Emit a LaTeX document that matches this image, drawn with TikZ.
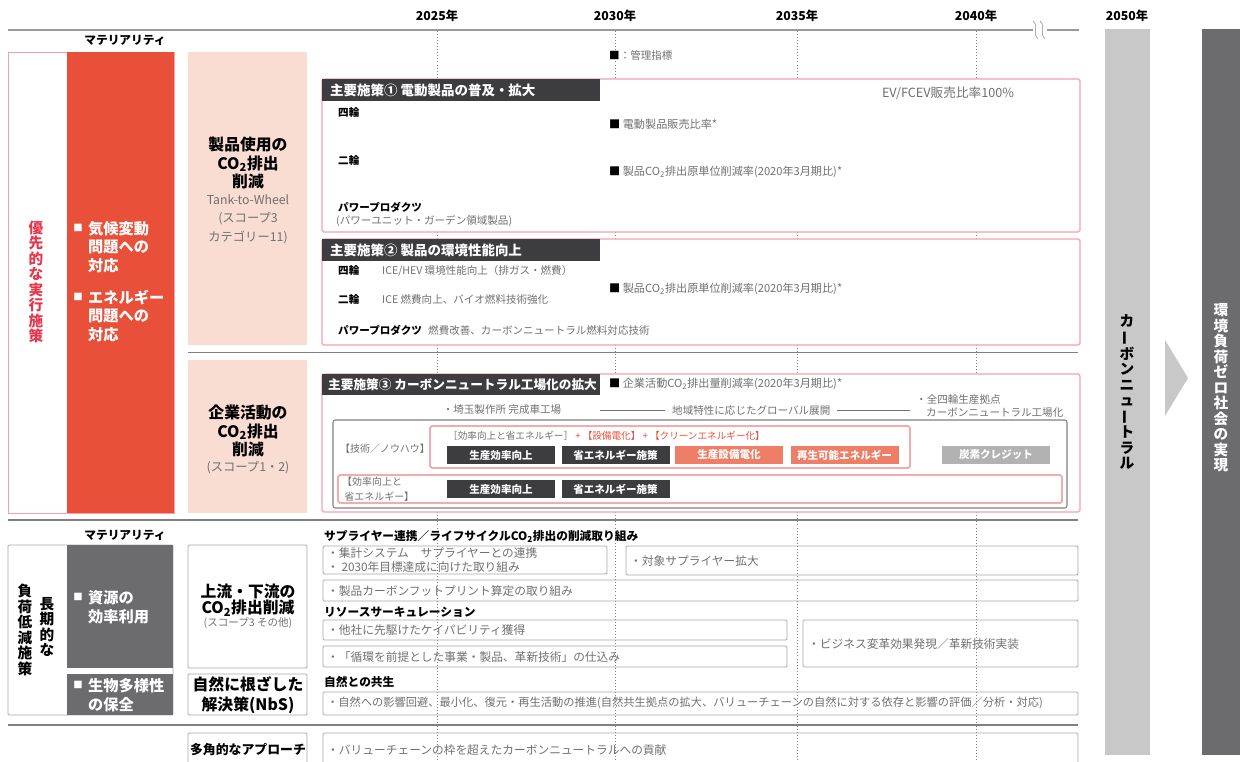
\documentclass[tikz,border=0pt]{standalone}
\usepackage{fontspec}
\setmainfont{Noto Sans CJK JP}
\usepackage{graphicx}
\definecolor{hred}{HTML}{E8503A}
\definecolor{hcrim}{HTML}{E5364E}
\definecolor{hpink}{HTML}{F2A2AE}
\definecolor{hline}{HTML}{EF7F84}
\definecolor{hpeach}{HTML}{FADDD2}
\definecolor{hdark}{HTML}{3D3D3F}
\definecolor{hsalmon}{HTML}{EE7E66}
\definecolor{hgray}{HTML}{6C6C6E}
\definecolor{hlight}{HTML}{C8C8C9}
\definecolor{htext}{HTML}{707070}
\definecolor{hframe}{HTML}{A8A8A8}
\newcommand\tbo{\rotatebox[origin=c]{90}{ー}}
\newcommand\fsz[2]{\fontsize{#1}{#2}\selectfont}
\begin{document}
\begin{tikzpicture}[x=0.03cm,y=-0.03cm,
  every node/.style={inner sep=0pt},
  yr/.style={font=\fsz{10.5}{12}\bfseries},
  head/.style={font=\fsz{13.5}{15.5}\bfseries, align=center},
  sub/.style={font=\fsz{10.5}{15.8}, text=htext, align=center},
  hd/.style={anchor=west, text=white, font=\fsz{11.5}{13}\bfseries},
  lbl/.style={anchor=west, font=\fsz{10}{12}\bfseries},
  plbl/.style={anchor=west, font=\fsz{9}{11}\bfseries},
  kpi/.style={anchor=west, font=\fsz{9.5}{12}, text=htext},
  note/.style={anchor=west, font=\fsz{9}{11}, text=htext},
  item/.style={anchor=west, font=\fsz{10}{11.5}, text=htext, align=left},
  btn/.style={fill=hdark, text=white, font=\fsz{9}{10}\bfseries, minimum width=3.24cm, minimum height=0.54cm},
  wtxt/.style={anchor=west, text=white, font=\fsz{13}{15.8}\bfseries, align=left},
  dot/.style={text=white, font=\fsz{8}{8}},
  tate/.style={align=center, font=\fsz{12.5}{13.2}\bfseries},
  frame/.style={draw=hframe, line width=0.8pt, rounded corners=1pt},
  pbox/.style={draw=hpink, line width=1pt, fill=white, rounded corners=1.5pt}]
\useasboundingbox (0,0) rectangle (1240,762);
\clip (0,0) rectangle (1240,762);

\node[yr] (y25) at (437,16) {2025年};
\node[yr] (y30) at (615,16) {2030年};
\node[yr] (y35) at (797,16) {2035年};
\node[yr] (y40) at (976,16) {2040年};
\node[yr] (y50) at (1127,16) {2050年};
\draw[gray!80, line width=1.2pt] (8,30) -- (1079,30);
\fill[white] (1033,21) rectangle (1047,39);
\draw[gray] (1033,21) .. controls (1040,28) and (1031,32) .. (1038,39);
\draw[gray] (1040,21) .. controls (1047,28) and (1038,32) .. (1045,39);
\foreach \x in {437,615,797,976}
  \draw[gray, dotted, line width=0.6pt] (\x,31) -- (\x,762);

\node[lbl, anchor=center] (mat1) at (125,40) {マテリアリティ};
\node[note] (legend) at (609,55) {{\color{black}■}：管理指標};

\draw[hpink, fill=white, line width=0.8pt] (8,52) rectangle (174,513);
\fill[hred] (67,52) rectangle (174,513);
\node[tate, text=hcrim] (prio) at (36,282) {優\\先\\的\\な\\実\\行\\施\\策};
\node[dot] (b1) at (78,228) {■};
\node[wtxt] (m1) at (88,247) {気候変動\\問題への\\対応};
\node[dot] (b2) at (78,297) {■};
\node[wtxt] (m2) at (88,316) {エネルギー\\問題への\\対応};

\fill[hpeach] (188,52) rectangle (307,345);
\node[head] (use1) at (248,163) {製品使用の\\CO\textsubscript{2}排出\\削減};
\node[sub] (use2) at (248,219) {Tank-to-Wheel\\(スコープ3\\カテゴリー11)};
\draw[gray, line width=0.8pt] (188,352) -- (1078,352);
\fill[hpeach] (188,360) rectangle (307,513);
\node[head] (corp1) at (248,431) {企業活動の\\CO\textsubscript{2}排出\\削減};
\node[sub] (corp2) at (248,468) {(スコープ1・2)};

\draw[pbox] (322,79) rectangle (1080,232);
\fill[hdark] (322,79) rectangle (600,101);
\node[hd] (p1) at (330,90) {主要施策① 電動製品の普及・拡大};
\node[plbl] (p1a) at (338,113) {四輪};
\node[plbl] (p1b) at (338,161) {二輪};
\node[plbl] (p1c) at (338,207) {パワープロダクツ};
\node[note] (p1d) at (336,221) {(パワーユニット・ガーデン領域製品)};
\node[kpi] (k1) at (609,124) {{\color{black}■} 電動製品販売比率*};
\node[kpi] (k2) at (609,172) {{\color{black}■} 製品CO\textsubscript{2}排出原単位削減率(2020年3月期比)*};
\node[kpi, anchor=center, font=\fsz{10.8}{12}] (ev) at (948,93) {EV/FCEV販売比率100\%};

\draw[pbox] (322,239) rectangle (1080,345);
\fill[hdark] (322,239) rectangle (600,261);
\node[hd] (p2) at (330,250) {主要施策② 製品の環境性能向上};
\node[plbl] (p2a) at (338,271) {四輪};
\node[note] (p2at) at (382,271) {ICE/HEV 環境性能向上（排ガス・燃費）};
\node[plbl] (p2b) at (338,300) {二輪};
\node[note] (p2bt) at (382,300) {ICE 燃費向上、バイオ燃料技術強化};
\node[plbl] (p2c) at (338,330) {パワープロダクツ};
\node[note] (p2ct) at (428,330) {燃費改善、カーボンニュートラル燃料対応技術};
\node[kpi] (k3) at (609,289) {{\color{black}■} 製品CO\textsubscript{2}排出原単位削減率(2020年3月期比)*};

\draw[pbox] (322,374) rectangle (1080,512);
\fill[hdark] (322,374) rectangle (600,395);
\node[hd, font=\fsz{10.8}{13}\bfseries] (p3) at (328,385) {主要施策③ カーボンニュートラル工場化の拡大};
\node[kpi] (k4) at (609,384) {{\color{black}■} 企業活動CO\textsubscript{2}排出量削減率(2020年3月期比)*};
\node[note, anchor=center] (sai) at (502,410) {・埼玉製作所 完成車工場};
\node[note] (glob) at (672,410) {地域特性に応じたグローバル展開};
\node[note] (all1) at (916,399) {・全四輪生産拠点};
\node[note] (all2) at (926,413) {カーボンニュートラル工場化};
\coordinate (g1) at (600,410);
\coordinate (g2) at (910,410);
\draw[htext, line width=0.6pt, shorten >=2mm] (g1) -- (glob.west);
\draw[htext, line width=0.6pt, shorten <=2mm] (glob.east) -- (g2);

\draw[draw=gray, line width=0.9pt, rounded corners=2pt] (333,420) rectangle (1067,508);
\draw[hline, line width=0.9pt, rounded corners=1.5pt] (430,426) rectangle (910,468);
\node[note, font=\fsz{8.5}{10}] (tech) at (340,449) {【技術／ノウハウ】};
\node[note, font=\fsz{8.2}{10}] (mix) at (448,436) {［効率向上と省エネルギー］ {\color{hred}+ 【設備電化】 + 【クリーンエネルギー化】}};
\node[btn] (t1) at (501,455) {生産効率向上};
\node[btn] (t2) at (615.5,455) {省エネルギー施策};
\node[btn, fill=hsalmon] (t3) at (729,455) {生産設備電化};
\node[btn, fill=hsalmon] (t4) at (844.5,455) {再生可能エネルギー};
\node[btn, fill=gray!60] (t5) at (996,455) {炭素クレジット};
\draw[hline, line width=0.9pt, rounded corners=1.5pt] (338,475) rectangle (1062,503);
\node[note, font=\fsz{8.5}{12.5}, align=left] (eff) at (342,489) {【効率向上と\\\ 省エネルギー】};
\node[btn] (t6) at (501,489) {生産効率向上};
\node[btn] (t7) at (615.5,489) {省エネルギー施策};

\draw[gray, line width=1.5pt] (8,520) -- (1078,520);
\node[lbl, anchor=center] (mat2) at (125,535) {マテリアリティ};
\draw[frame] (8,545) rectangle (173,715);
\fill[hgray] (67,545) rectangle (173,668);
\fill[hgray] (67,674) rectangle (173,715);
\node[tate] (long1) at (47,627) {長\\期\\的\\な};
\node[tate] (long2) at (25,630) {負\\荷\\低\\減\\施\\策};
\node[dot] (b3) at (78,597) {■};
\node[wtxt] (res) at (88,607) {資源の\\効率利用};
\node[dot] (b4) at (78,685) {■};
\node[wtxt] (bio) at (88,695) {生物多様性\\の保全};

\draw[frame] (188,545) rectangle (307,668);
\node[head, font=\fsz{13.5}{14}\bfseries] (up1) at (248,600) {上流・下流の\\CO\textsubscript{2}排出削減};
\node[sub, font=\fsz{9}{11}] (up2) at (248,623) {(スコープ3 その他)};
\draw[frame] (188,674) rectangle (307,715);
\node[head, font=\fsz{13.5}{17}\bfseries] (nbs) at (248,695) {自然に根ざした\\解決策(NbS)};
\draw[gray, line width=1.5pt] (8,725) -- (1078,725);
\draw[frame] (188,733) rectangle (307,780);
\node[head, font=\fsz{11}{13}\bfseries] (multi) at (248,750) {多角的なアプローチ};

\node[lbl] (sup) at (324,536) {サプライヤー連携／ライフサイクルCO\textsubscript{2}排出の削減取り組み};
\draw[frame] (323,546) rectangle (607,574);
\node[item] (s1) at (327,560) {・集計システム　サプライヤーとの連携\\・ 2030年目標達成に向けた取り組み};
\draw[frame] (626,546) rectangle (1078,575);
\node[item] (s2) at (630,561) {・対象サプライヤー拡大};
\draw[frame] (323,580) rectangle (1078,601);
\node[item] (s3) at (327,591) {・製品カーボンフットプリント算定の取り組み};
\node[lbl] (rc) at (324,612) {リソースサーキュレーション};
\draw[frame] (323,620) rectangle (787,640);
\node[item] (r1) at (327,630) {・他社に先駆けたケイパビリティ獲得};
\draw[frame] (323,646) rectangle (787,667);
\node[item] (r2) at (327,657) {・「循環を前提とした事業・製品、革新技術」の仕込み};
\draw[frame] (803,620) rectangle (1078,667);
\node[item] (r3) at (808,644) {・ビジネス変革効果発現／革新技術実装};
\node[lbl] (nat) at (324,682) {自然との共生};
\draw[frame] (323,692) rectangle (1078,715);
\node[item, font=\fsz{9.6}{11}] (n1) at (327,703) {・自然への影響回避、最小化、復元・再生活動の推進(自然共生拠点の拡大、バリューチェーンの自然に対する依存と影響の評価／分析・対応)};
\draw[frame] (323,733) rectangle (1078,780);
\node[item] (v1) at (327,750) {・バリューチェーンの枠を超えたカーボンニュートラルへの貢献};

\fill[hlight] (1105,29) rectangle (1150,755);
\node[tate] (cn) at (1127,392) {カ\\\tbo\\ボ\\ン\\ニ\\ュ\\\tbo\\ト\\ラ\\ル};
\fill[hlight] (1165,340) -- (1188,378) -- (1165,416) -- cycle;
\fill[hgray] (1202,29) rectangle (1240,755);
\node[tate, text=white] (zero) at (1221,388) {環\\境\\負\\荷\\ゼ\\ロ\\社\\会\\の\\実\\現};
\end{tikzpicture}
\end{document}
